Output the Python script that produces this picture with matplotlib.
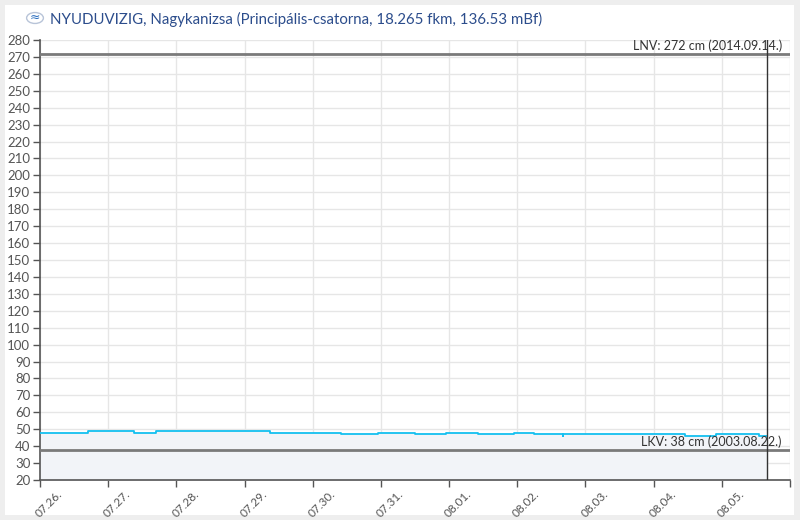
import matplotlib.pyplot as plt
import matplotlib.transforms as mtransforms
from matplotlib.patches import Circle, Rectangle
import numpy as np

plt.rcParams['font.family'] = ['Lato', 'DejaVu Sans']

# vízállás adatok: órák 07.26. 00:00-tól, szint cm-ben (lépcsős)
ido_ora = [0, 17, 33, 41, 81, 106, 119, 132, 143, 154, 167, 174, 184, 184.25, 227, 238, 253, 256]
szint = [48, 49, 48, 49, 48, 47, 48, 47, 48, 47, 48, 47, 46, 47, 46, 47, 46, 46]
napok = ["07.26.", "07.27.", "07.28.", "07.29.", "07.30.", "07.31.",
         "08.01.", "08.02.", "08.03.", "08.04.", "08.05."]
lnv = 272
lkv = 38
lnv_szoveg = "LNV: 272 cm (2014.09.14.)"
lkv_szoveg = "LKV: 38 cm (2003.08.22.)"
cim = "NYUDUVIZIG, Nagykanizsa (Principális-csatorna, 18.265 fkm, 136.53 mBf)"

fig = plt.figure(figsize=(8, 5.2), dpi=100, facecolor='#eeeeee')
# fehér panel
fig.patches.append(Rectangle((5/800, 5/520), 789/800, 510/520, transform=fig.transFigure,
                             facecolor='white', edgecolor='none', zorder=-10))

ax = fig.add_axes([40/800, 40/520, 750/800, 440/520])
ax.set_facecolor('none')

x = np.array(ido_ora) / 24.0
y = np.array(szint)
most = x[-1]

ax.fill_between(x, y, 20, step='post', color='#f2f4f8', zorder=1)
ax.step(x, y, where='post', color='#14c0f0', lw=1.3, zorder=3)

ax.axhline(lnv, color='#7a7a7a', lw=2, zorder=4)
ax.axhline(lkv, color='#7a7a7a', lw=2, zorder=4)
ax.axvline(most, color='#333333', lw=1, zorder=5)

ax.text(10.88, lnv + 1.2, lnv_szoveg, ha='right', va='bottom', fontsize=9, color='#333333', zorder=6)
ax.text(10.87, lkv + 1.2, lkv_szoveg, ha='right', va='bottom', fontsize=9, color='#333333', zorder=6)

ax.set_xlim(0, 11)
ax.set_ylim(20, 280)
ax.set_yticks(np.arange(20, 281, 10))
ax.set_xticks(np.arange(0, 12))
ax.set_xticklabels(napok + [""])
ax.grid(True, color='#e6e6e6', lw=1, zorder=0)
ax.set_axisbelow(True)

for s in ['top', 'right']:
    ax.spines[s].set_visible(False)
for s in ['left', 'bottom']:
    ax.spines[s].set_color('#555555')
    ax.spines[s].set_linewidth(1.2)

ax.tick_params(axis='y', length=5, width=1, color='#555555', labelcolor='#555555', labelsize=9.5, pad=2)
ax.tick_params(axis='x', length=5, width=1, color='#555555', labelcolor='#555555', labelsize=8.5, pad=1)

eltolas = mtransforms.ScaledTranslation(9/100, 0, fig.dpi_scale_trans)
for lab in ax.get_xticklabels():
    lab.set_rotation(45)
    lab.set_ha('center')
    lab.set_va('top')
    lab.set_transform(lab.get_transform() + eltolas)

# cím és logó
fig.text(50/800, 1 - 19/520, cim, ha='left', va='center', fontsize=10.8, color='#2c4d8c')
fig.patches.append(Circle((35/800, 1 - 18/520), 0.0105, transform=fig.transFigure,
                          facecolor='white', edgecolor='#b8c4d8', lw=1, zorder=2))
fig.text(35/800, 1 - 17/520, "≈", ha='center', va='center', fontsize=9, color='#2c6fc0', family=['DejaVu Sans'])

fig.savefig('out.png', dpi=100, facecolor=fig.get_facecolor())
